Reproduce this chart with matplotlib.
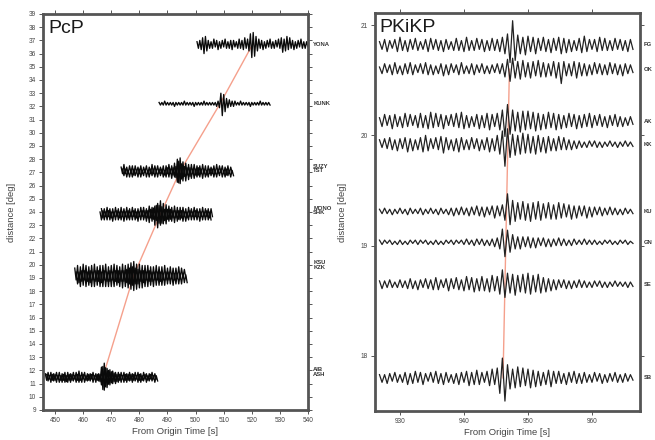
import numpy as np
import matplotlib
matplotlib.use("Agg")
import matplotlib.pyplot as plt

plt.rcParams['font.family'] = ['Liberation Sans', 'DejaVu Sans']

# ---------------- PcP panel data ----------------
pcp_names = ["YONA", "KUNK", "SUZY", "TST", "MONO", "SHK", "KSU", "KZK", "AIB", "ASH"]
pcp_dist = [36.7, 32.2, 27.2, 26.95, 23.95, 23.7, 19.35, 18.95, 11.55, 11.4]
pcp_t0 = [500.5, 487.0, 473.5, 474.0, 466.5, 466.0, 457.0, 457.5, 446.5, 447.0]
pcp_dt = 0.5
yona = [2,-3,3,-4,5,-7,6,-5,3,-3, 2,-3,4,-2,3,-4,2,-3,3,-2, 4,-3,2,-3,3,-4,3,-2,2,-3,
        4,-3,3,-4,5,-3,4,-5,8,-10, 9,-9,6,-5,4,-3,3,-4,2,-3, 3,-2,4,-3,2,-3,3,-2,4,-3,
        5,-6,4,-5,6,-4,5,-3,3,-4, 2,-3,3,-2,4,-3,2,-3,2,-2]
kunk = [1,-1,1,-1,2,-1,1,-1,1,-1, 1,-2,1,-1,1,-1,1,-1,2,-1, 1,-1,1,-1,1,-2,1,-1,1,-1,
        1,-1,2,-1,1,-1,1,-1,1,-1, 1,-2,2,-3,8,-9,7,-6,4,-3, 3,-2,2,-2,2,-1,1,-1,2,-1,
        1,-1,1,-1,1,-2,1,-1,1,-1, 1,-1,2,-1,1,-1,1,-1,1,-1]
suzy = [2,-3,4,-3,2,-3,3,-2,3,-4, 3,-2,2,-3,3,-3,2,-2,3,-3, 2,-3,4,-3,3,-2,3,-3,2,-3,
        3,-4,3,-3,4,-3,3,-4,5,-6, 8,-10,9,-7,6,-5,5,-4,4,-5, 4,-3,4,-4,3,-4,3,-3,4,-3,
        3,-4,3,-3,2,-3,3,-3,4,-3, 3,-2,3,-3,2,-4,3,-3,2,-2]
tst = [3,-2,3,-3,2,-3,2,-3,3,-2, 2,-3,3,-3,2,-2,3,-3,2,-3, 3,-2,3,-3,2,-3,3,-2,3,-3,
       2,-3,4,-3,3,-4,4,-3,5,-7, 9,-8,7,-6,5,-6,4,-5,4,-4, 3,-4,3,-3,4,-3,3,-4,3,-3,
       2,-3,3,-2,3,-3,2,-3,3,-2, 3,-3,2,-3,3,-2,2,-3,2,-2]
mono = [3,-4,3,-3,4,-3,3,-4,3,-3, 4,-3,3,-4,4,-3,3,-3,4,-4, 3,-3,4,-3,3,-4,3,-3,4,-3,
        4,-4,3,-4,5,-4,4,-5,5,-6, 7,-8,9,-8,7,-6,6,-5,5,-5, 4,-4,5,-4,4,-5,4,-4,4,-3,
        3,-4,4,-3,3,-3,4,-3,3,-3, 3,-3,4,-3,3,-3,3,-4,3,-3]
shk = [3,-3,4,-3,3,-3,4,-3,3,-4, 3,-3,4,-3,3,-3,3,-4,3,-3, 4,-3,3,-3,4,-3,3,-4,3,-3,
       4,-3,4,-4,4,-5,5,-4,6,-7, 8,-9,8,-7,7,-6,5,-6,5,-4, 5,-4,4,-5,4,-4,4,-3,4,-4,
       3,-4,3,-3,4,-3,3,-3,4,-3, 3,-4,3,-3,3,-3,4,-3,3,-3]
ksu = [4,-5,6,-7,5,-6,7,-5,6,-6, 5,-7,6,-5,7,-6,5,-6,6,-7, 6,-5,7,-6,5,-6,6,-5,7,-6,
       6,-7,5,-6,7,-6,6,-7,7,-8, 8,-9,9,-8,7,-8,7,-6,6,-7, 6,-5,6,-6,5,-6,5,-5,6,-5,
       5,-6,5,-5,6,-5,4,-5,5,-4, 4,-5,4,-4,5,-4,4,-3,3,-3]
kzk = [5,-4,5,-6,6,-5,6,-6,5,-5, 6,-6,5,-6,6,-5,6,-6,5,-6, 6,-6,5,-6,6,-6,5,-6,6,-5,
       6,-6,6,-7,6,-6,7,-7,8,-8, 9,-9,8,-8,7,-7,6,-7,6,-6, 5,-6,6,-5,5,-6,5,-5,5,-5,
       5,-5,4,-5,5,-4,5,-4,4,-5, 4,-4,4,-4,3,-4,4,-3,3,-3]
aib = [2,-3,3,-2,3,-3,2,-3,3,-2, 3,-3,2,-3,3,-4,3,-3,2,-3, 3,-2,3,-3,4,-3,3,-2,3,-3,
       2,-3,2,-2,3,-2,2,-3,2,-4, 7,-10,10,-8,6,-6,5,-5,4,-4, 3,-4,3,-3,3,-2,3,-3,2,-3,
       3,-3,2,-3,3,-2,3,-3,2,-3, 3,-2,2,-3,2,-2,3,-2,2,-2]
ash = [3,-2,2,-3,3,-2,3,-3,2,-3, 2,-3,3,-3,2,-3,3,-3,3,-2, 2,-3,3,-3,2,-3,3,-3,2,-2,
       3,-2,3,-3,2,-3,3,-2,3,-5, 9,-9,8,-7,6,-5,5,-4,4,-4, 3,-3,3,-3,2,-3,3,-3,3,-2,
       3,-3,3,-2,2,-3,3,-3,2,-2, 3,-3,2,-2,3,-2,2,-3,2,-2]
pcp_traces = [yona, kunk, suzy, tst, mono, shk, ksu, kzk, aib, ash]
pcp_labels = ["YONA", "KUNK", "SUZY\nTST", "MONO\nSHK", "KSU\nKZK", "AIB\nASH"]
pcp_label_y = [36.7, 32.25, 27.3, 24.1, 20.0, 11.9]
pcp_curve_t = [467.0, 478.0, 487.5, 494.5, 508.7, 520.3]
pcp_curve_d = [11.5, 19.2, 23.85, 27.1, 32.2, 36.7]
pcp_xticks = [450, 460, 470, 480, 490, 500, 510, 520, 530, 540]
pcp_yticks = list(range(9, 40))

# ---------------- PKiKP panel data ----------------
pk_labels = ["FG", "OK", "AK", "KK", "KU", "GN", "SE", "SB"]
pk_dist = [20.82, 20.6, 20.13, 19.92, 19.31, 19.03, 18.65, 17.80]
pk_t0 = 926.8
pk_dt = 0.4
r1 = [3,-4,5,-6,4,-3,5,-6,7,-5, 4,-6,5,-4,6,-5,3,-4,5,-6, 6,-4,5,-5,4,-6,5,-4,3,-5,
      6,-5,4,-6,7,-5,4,-5,6,-4, 5,-6,4,-5,6,-5,5,-6,7,-8, 10,-16,22,-14,9,-8,7,-9,8,-6,
      7,-8,6,-5,7,-6,5,-7,6,-5, 7,-8,6,-7,5,-6,4,-5,6,-7, 8,-6,5,-4,5,-6,7,-5,6,-5,
      4,-5,6,-4,5,-5,4,-6,5,-4]
r2 = [2,-4,5,-3,4,-5,6,-4,3,-5, 5,-4,6,-5,4,-3,5,-4,6,-5, 4,-5,3,-4,5,-6,4,-5,5,-3,
      4,-5,6,-4,3,-4,5,-5,4,-3, 5,-4,3,-4,4,-3,5,-4,5,-7, 9,-11,10,-8,7,-9,8,-7,6,-8,
      7,-6,8,-7,6,-7,5,-6,7,-8, 6,-13,7,-6,5,-6,7,-8,6,-6, 5,-6,4,-5,6,-4,5,-5,4,-5,
      6,-4,5,-5,4,-6,5,-4,4,-3]
r3 = [3,-5,6,-4,5,-7,6,-5,4,-6, 7,-5,6,-4,5,-6,7,-6,5,-7, 8,-6,7,-5,6,-7,5,-4,6,-5,
      7,-6,8,-7,5,-6,4,-5,6,-7, 5,-6,7,-8,6,-5,7,-8,10,-14, 15,-12,10,-9,8,-10,9,-8,9,-7,
      8,-9,7,-8,6,-7,8,-6,7,-8, 6,-7,5,-6,7,-5,6,-7,5,-6, 6,-5,7,-6,5,-4,6,-5,4,-6,
      5,-4,6,-5,4,-5,3,-4,4,-3]
r4 = [4,-3,5,-4,6,-5,4,-6,5,-4, 6,-7,5,-6,4,-5,6,-7,8,-6, 5,-4,6,-5,7,-8,6,-5,4,-6,
      5,-7,6,-5,4,-5,6,-4,5,-6, 4,-5,6,-7,5,-6,8,-9,12,-20, 14,-12,9,-10,8,-9,10,-8,9,-8,
      7,-9,8,-7,6,-8,7,-6,5,-6, 7,-5,6,-5,4,-5,3,-4,3,-3, 2,-3,3,-2,3,-3,2,-3,2,-2,
      3,-2,2,-3,2,-2,3,-2,2,-2]
r5 = [2,-2,3,-2,2,-3,2,-2,3,-2, 2,-3,3,-2,2,-2,3,-3,2,-2, 3,-2,2,-3,3,-2,2,-3,3,-4,
      3,-3,4,-3,3,-4,4,-3,5,-4, 4,-5,4,-3,5,-6,5,-4,6,-8, 16,-12,10,-9,8,-7,9,-8,7,-9,
      8,-7,9,-8,7,-6,8,-7,6,-7, 8,-6,7,-5,6,-7,5,-6,5,-4, 5,-6,4,-5,4,-3,4,-4,3,-3,
      4,-3,3,-3,2,-3,3,-2,2,-2]
r6 = [2,-2,2,-1,2,-2,1,-2,2,-2, 1,-2,2,-1,2,-2,2,-1,2,-2, 1,-2,2,-2,1,-2,2,-1,2,-2,
      2,-1,2,-2,3,-2,2,-3,3,-2, 3,-3,2,-3,3,-4,4,-6,12,-13, 11,-9,7,-6,5,-6,5,-4,5,-5,
      4,-5,4,-3,4,-4,3,-4,3,-3, 4,-3,3,-3,2,-3,3,-2,2,-2, 3,-2,2,-2,2,-2,1,-2,2,-1,
      2,-2,1,-2,2,-1,2,-2,1,-1]
r7 = [3,-4,3,-3,4,-3,2,-3,4,-3, 3,-4,5,-4,3,-5,4,-3,5,-4, 4,-5,6,-5,4,-3,5,-6,5,-4,
      6,-5,4,-6,7,-5,6,-7,5,-6, 7,-6,5,-7,8,-6,7,-9,13,-12, 10,-8,9,-10,8,-7,9,-8,10,-9,
      8,-7,9,-8,6,-7,5,-6,4,-5, 4,-3,4,-4,3,-4,3,-3,4,-3, 3,-3,2,-3,3,-2,3,-3,2,-3,
      2,-2,3,-2,2,-2,2,-3,2,-2]
r8 = [3,-4,3,-5,4,-3,5,-4,3,-4, 5,-6,4,-5,6,-4,5,-6,4,-3, 5,-4,6,-5,4,-6,5,-4,3,-5,
      4,-6,5,-4,6,-7,5,-6,7,-6, 5,-4,6,-7,8,-6,9,-14,18,-21, 12,-10,8,-9,10,-8,9,-7,8,-9,
      7,-8,6,-7,5,-6,7,-8,6,-5, 6,-5,4,-6,5,-4,6,-5,4,-5, 5,-4,3,-4,5,-3,4,-5,3,-4,
      4,-3,5,-4,3,-4,4,-3,3,-2]
pk_traces = [r1, r2, r3, r4, r5, r6, r7, r8]
pk_curve_t = [947.1, 946.1]
pk_curve_d = [20.6, 17.8]
pk_xticks = [930, 940, 950, 960]
pk_yticks = [18, 19, 20, 21]

# ---------------- drawing ----------------
SPINE = "#555555"
TXT = "#444444"
fig = plt.figure(figsize=(6.55, 4.4), dpi=100)
axL = fig.add_axes([43/655, 1-410/440, (308-43)/655, (410-14)/440])
axR = fig.add_axes([375/655, 1-411/440, (640-375)/655, (411-13)/440])

def style(ax):
    for s in ax.spines.values():
        s.set_color(SPINE)
        s.set_linewidth(2.0)
    ax.tick_params(direction='out', length=3, width=0.7, color=SPINE,
                   labelsize=4.7, labelcolor=TXT, pad=2,
                   top=True, right=True, labeltop=False, labelright=False)

# Left panel
axL.plot(pcp_curve_t, pcp_curve_d, color="#f5a08c", lw=1.0, zorder=1)
for amp, t0, d in zip(pcp_traces, pcp_t0, pcp_dist):
    a = np.asarray(amp, float)
    t = t0 + pcp_dt * np.arange(len(a))
    axL.plot(t, d + 0.1 * a, color="#0a0a0a", lw=0.95, zorder=2)
axL.set_xlim(445.7, 540)
axL.set_ylim(9, 39)
axL.set_xticks(pcp_xticks)
axL.set_yticks(pcp_yticks)
style(axL)
axL.set_xlabel("From Origin Time [s]", fontsize=6.8, color=TXT, labelpad=2.5)
axL.set_ylabel("distance [deg]", fontsize=6.8, color=TXT, labelpad=9)
axL.text(0.02, 0.985, "PcP", transform=axL.transAxes, fontsize=14,
         color="#1a1a1a", va="top", ha="left")
for lab, y in zip(pcp_labels, pcp_label_y):
    axL.text(1.02, y, lab, transform=axL.get_yaxis_transform(), fontsize=4.2,
             color="#333333", fontweight="bold", va="center", ha="left",
             linespacing=0.9, clip_on=False)

# Right panel
axR.plot(pk_curve_t, pk_curve_d, color="#f5a08c", lw=1.0, zorder=1)
for amp, d in zip(pk_traces, pk_dist):
    a = np.asarray(amp, float)
    t = pk_t0 + pk_dt * np.arange(len(a))
    axR.plot(t, d + 0.01 * a, color="#222222", lw=0.9, zorder=2)
axR.set_xlim(926.1, 967.5)
axR.set_ylim(17.5, 21.11)
axR.set_xticks(pk_xticks)
axR.set_yticks(pk_yticks)
style(axR)
axR.set_xlabel("From Origin Time [s]", fontsize=6.8, color=TXT, labelpad=2.5)
axR.set_ylabel("distance [deg]", fontsize=6.8, color=TXT, labelpad=10)
axR.text(0.015, 0.985, "PKiKP", transform=axR.transAxes, fontsize=14,
         color="#1a1a1a", va="top", ha="left")
for lab, y in zip(pk_labels, pk_dist):
    axR.text(1.015, y, lab, transform=axR.get_yaxis_transform(), fontsize=4.2,
             color="#333333", fontweight="bold", va="center", ha="left",
             clip_on=False)

fig.savefig("out.png", dpi=100)
